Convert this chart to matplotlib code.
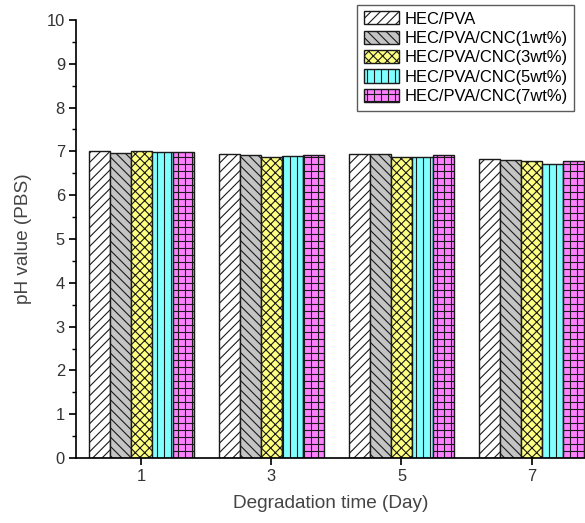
import numpy as np
import matplotlib.pyplot as plt

plt.rcParams['font.family'] = ['Liberation Sans', 'DejaVu Sans']
plt.rcParams['hatch.linewidth'] = 0.95

days = [1, 3, 5, 7]
labels = ['HEC/PVA', 'HEC/PVA/CNC(1wt%)', 'HEC/PVA/CNC(3wt%)',
          'HEC/PVA/CNC(5wt%)', 'HEC/PVA/CNC(7wt%)']
ph_pva = [7.00, 6.93, 6.93, 6.83]
ph_cnc1 = [6.97, 6.92, 6.93, 6.80]
ph_cnc3 = [7.00, 6.88, 6.88, 6.79]
ph_cnc5 = [6.98, 6.89, 6.88, 6.72]
ph_cnc7 = [6.98, 6.92, 6.91, 6.77]

series = [ph_pva, ph_cnc1, ph_cnc3, ph_cnc5, ph_cnc7]
colors = ['white', '#c4c4c4', '#ffff80', '#80ffff', '#ff80ff']
hatches = ['///', '\\\\\\', 'xxx', '||', '++']

# dpi 84 -> hatch tile of 84 px, gives spacing close to the original
DPI = 84
fig = plt.figure(figsize=(585 / DPI, 523 / DPI), dpi=DPI)
ax = fig.add_axes([0.13, 0.124, 0.87, 0.838])

w = 0.323
x = np.array(days, dtype=float)
for i, (vals, c, h, lab) in enumerate(zip(series, colors, hatches, labels)):
    ax.bar(x + (i - 2) * w, vals, width=w, color=c, hatch=h,
           edgecolor='#1a1a1a', linewidth=1.2, label=lab)

ax.set_xlim(0, 7.82)
ax.set_ylim(0, 10)
ax.set_xticks(days)
ax.set_yticks(range(0, 11))
ax.set_yticks(np.arange(0.5, 10, 1), minor=True)
ax.spines['top'].set_visible(False)
ax.spines['right'].set_visible(False)
ax.spines['left'].set_linewidth(1.45)
ax.spines['bottom'].set_linewidth(1.45)
ax.tick_params(axis='both', which='major', direction='out', length=6, width=1.45,
               labelsize=14.1, labelcolor='#333333', pad=3.5)
ax.tick_params(axis='y', which='minor', direction='out', length=3.4, width=1.2)

ax.set_xlabel('Degradation time (Day)', fontsize=16.3, color='#444444', labelpad=9)
ax.set_ylabel('pH value (PBS)', fontsize=16.3, color='#444444', labelpad=13)

leg = ax.legend(loc='upper right', bbox_to_anchor=(0.985, 1.042), fontsize=14.1,
                frameon=True, fancybox=False, edgecolor='#333333',
                handlelength=2.1, handleheight=0.85, handletextpad=0.35,
                labelspacing=0.25, borderpad=0.4, borderaxespad=0.2)
leg.get_frame().set_linewidth(1.2)

fig.savefig('out.png', dpi=DPI)
